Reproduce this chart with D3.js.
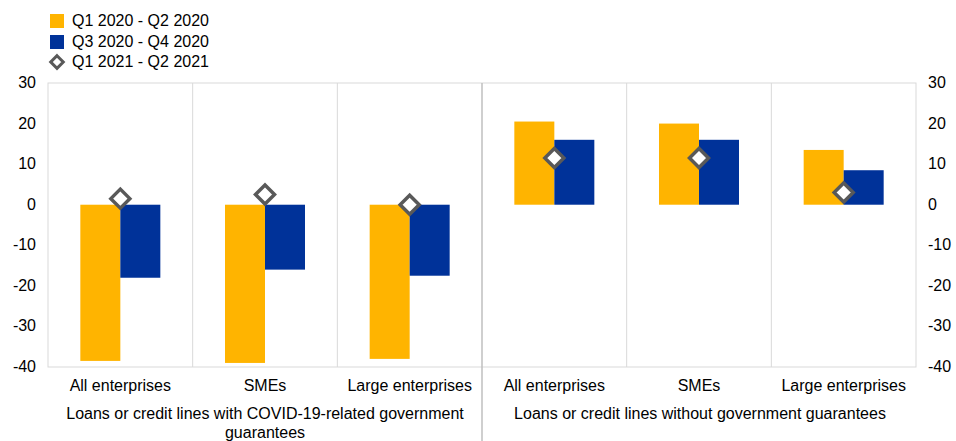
<!DOCTYPE html><html><head><script src="https://d3js.org/d3.v7.min.js"></script>
<style>body{margin:0;background:#fff}text{font-family:Arial,"Liberation Sans",sans-serif;fill:#000}</style></head><body>
<svg id="c" width="956" height="441"></svg>
<script>
const categories=["All enterprises","SMEs","Large enterprises","All enterprises","SMEs","Large enterprises"];
const groups=["Loans or credit lines with COVID-19-related government guarantees","Loans or credit lines without government guarantees"];
const seriesNames=["Q1 2020 - Q2 2020","Q3 2020 - Q4 2020","Q1 2021 - Q2 2021"];
const q1_2020=[-38.5,-39,-38,20.5,20,13.5];
const q3_2020=[-18,-16,-17.5,16,16,8.5];
const q1_2021=[1.5,2.5,0,11.5,11.5,3];
const ticks=[-40,-30,-20,-10,0,10,20,30];
const svg=d3.select("#c");
const L=48,R=916,T=83,B=367,FS=16;
const x=d3.scaleBand().domain(d3.range(6)).range([L,R]);
const y=d3.scaleLinear().domain([-40,30]).range([B,T]);
const g=svg.append("g");
const grey="#d9d9d9";
g.append("rect").attr("x",L).attr("y",T).attr("width",R-L).attr("height",B-T).attr("fill","none").attr("stroke",grey);
[1,2,4,5].forEach(i=>g.append("line").attr("x1",x(i)).attr("x2",x(i)).attr("y1",T).attr("y2",B).attr("stroke",grey));
g.append("line").attr("x1",x(3)).attr("x2",x(3)).attr("y1",T).attr("y2",441).attr("stroke","#bfbfbf").attr("stroke-width",1.5);
const bw=40;
categories.forEach((c,i)=>{
  const cx=x(i)+x.bandwidth()/2;
  g.append("rect").attr("x",cx-bw).attr("width",bw).attr("y",y(Math.max(0,q1_2020[i]))).attr("height",Math.abs(y(q1_2020[i])-y(0))).attr("fill","#FFB400");
  g.append("rect").attr("x",cx).attr("width",bw).attr("y",y(Math.max(0,q3_2020[i]))).attr("height",Math.abs(y(q3_2020[i])-y(0))).attr("fill","#003299");
  g.append("path").attr("d",d3.symbol(d3.symbolDiamond2,230)()).attr("transform",`translate(${cx},${y(q1_2021[i])})`).attr("fill","#fff").attr("stroke","#595959").attr("stroke-width",3.5);
  g.append("text").attr("x",cx).attr("y",391).attr("text-anchor","middle").attr("font-size",FS).text(c);
});
ticks.forEach(t=>{
  g.append("text").attr("x",36).attr("y",y(t)+5).attr("text-anchor","end").attr("font-size",FS).text(t);
  g.append("text").attr("x",928).attr("y",y(t)+5).attr("text-anchor","start").attr("font-size",FS).text(t);
});
g.append("text").attr("x",265).attr("y",419).attr("text-anchor","middle").attr("font-size",FS).text("Loans or credit lines with COVID-19-related government");
g.append("text").attr("x",265).attr("y",438).attr("text-anchor","middle").attr("font-size",FS).text("guarantees");
g.append("text").attr("x",700).attr("y",419).attr("text-anchor","middle").attr("font-size",FS).text(groups[1]);
const ly=[21,42,62];
g.append("rect").attr("x",50).attr("y",ly[0]-7).attr("width",14).attr("height",14).attr("fill","#FFB400");
g.append("rect").attr("x",50).attr("y",ly[1]-7).attr("width",14).attr("height",14).attr("fill","#003299");
g.append("path").attr("d",d3.symbol(d3.symbolDiamond2,100)()).attr("transform",`translate(57,${ly[2]})`).attr("fill","#fff").attr("stroke","#595959").attr("stroke-width",3);
seriesNames.forEach((s,i)=>g.append("text").attr("x",72).attr("y",ly[i]+5).attr("font-size",FS).text(s));
</script></body></html>
